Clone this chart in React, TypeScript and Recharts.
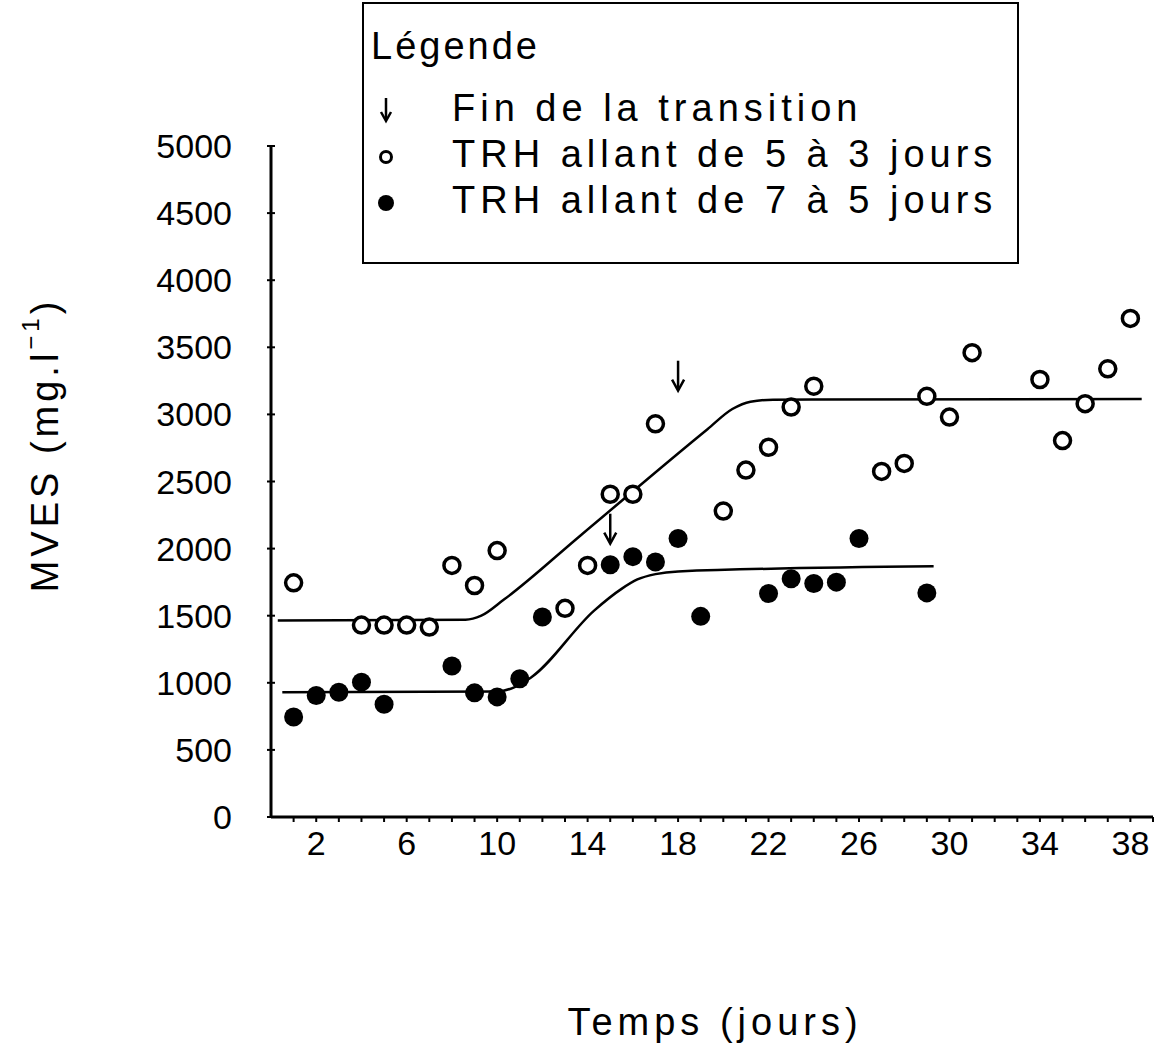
import { ComposedChart, Line, Scatter, XAxis, YAxis, Label } from 'recharts'

// TRH allant de 5 à 3 jours (cercles vides)
const openDays = [1, 4, 5, 6, 7, 8, 9, 10, 13, 14, 15, 16, 17, 20, 21, 22, 23, 24, 27, 28, 29, 30, 31, 34, 35, 36, 37, 38]
const openMves = [1745, 1430, 1430, 1430, 1415, 1875, 1725, 1985, 1555, 1875, 2405, 2405, 2930, 2280, 2585, 2755, 3055, 3210, 2575, 2635, 3135, 2980, 3460, 3260, 2805, 3080, 3340, 3715]

// TRH allant de 7 à 5 jours (cercles pleins)
const filledDays = [1, 2, 3, 4, 5, 8, 9, 10, 11, 12, 15, 16, 17, 18, 19, 22, 23, 24, 25, 26, 29]
const filledMves = [745, 905, 930, 1005, 840, 1125, 925, 895, 1030, 1490, 1880, 1940, 1900, 2075, 1495, 1665, 1775, 1740, 1750, 2075, 1670]

// courbes d'ajustement
const openFitDays = [0.3, 8.6, 9.3, 10.3, 13.7, 19.3, 20.4, 21.2, 22.2, 38.5]
const openFitMves = [1465, 1470, 1500, 1620, 2100, 2890, 3040, 3095, 3110, 3115]
const filledFitDays = [0.5, 10, 10.8, 11.5, 14.3, 15.5, 16.2, 17, 18, 29.3]
const filledFitMves = [930, 935, 970, 1040, 1540, 1700, 1770, 1810, 1830, 1868]

// fin de la transition
const arrowDays = [15, 18]
const arrowMves = [2260, 3400]

const xTicks = [1, 2, 3, 4, 5, 6, 7, 8, 9, 10, 11, 12, 13, 14, 15, 16, 17, 18, 19, 20, 21, 22, 23, 24, 25, 26, 27, 28, 29, 30, 31, 32, 33, 34, 35, 36, 37, 38, 39]
const xTickLabels = [2, 6, 10, 14, 18, 22, 26, 30, 34, 38]
const yTicks = [0, 500, 1000, 1500, 2000, 2500, 3000, 3500, 4000, 4500, 5000]

const FONT = '"Liberation Sans", Arial, sans-serif'

const zip = (days: number[], vals: number[]) => days.map((d, i) => ({ day: d, mves: vals[i] }))

const openPts = zip(openDays, openMves)
const filledPts = zip(filledDays, filledMves)
const openFit = zip(openFitDays, openFitMves)
const filledFit = zip(filledFitDays, filledFitMves)
const arrowPts = zip(arrowDays, arrowMves)

function OpenDot({ cx, cy }: { cx?: number; cy?: number }) {
  return <circle cx={cx} cy={cy} r={8} fill="#fff" stroke="#000" strokeWidth={3.5} />
}

function FilledDot({ cx, cy }: { cx?: number; cy?: number }) {
  return <circle cx={cx} cy={cy} r={9.5} fill="#000" />
}

function Arrow({ cx, cy }: { cx?: number; cy?: number }) {
  if (cx == null || cy == null) return null
  return (
    <g stroke="#000" strokeWidth={2.5} fill="none">
      <line x1={cx} y1={cy} x2={cx} y2={cy + 29} />
      <polyline points={`${cx - 6},${cy + 19} ${cx},${cy + 30} ${cx + 6},${cy + 19}`} />
    </g>
  )
}

function XTick({ x, y, payload }: { x?: number; y?: number; payload?: { value: number } }) {
  const v = payload?.value ?? 0
  return (
    <g>
      <line x1={x} y1={y} x2={x} y2={(y ?? 0) + 5} stroke="#000" strokeWidth={2} />
      {xTickLabels.includes(v) && (
        <text x={x} y={(y ?? 0) + 38} textAnchor="middle" fontSize={34} fontFamily={FONT} fill="#000">
          {v}
        </text>
      )}
    </g>
  )
}

function YTick({ x, y, payload }: { x?: number; y?: number; payload?: { value: number } }) {
  return (
    <g>
      <line x1={(x ?? 0) - 4} y1={y} x2={(x ?? 0) + 4} y2={y} stroke="#000" strokeWidth={2} />
      <text x={(x ?? 0) - 39} y={(y ?? 0) + 12} textAnchor="end" fontSize={34} fontFamily={FONT} fill="#000">
        {payload?.value}
      </text>
    </g>
  )
}

function YTitle() {
  return (
    <text x={45} y={445} transform="rotate(-90 45 445)" textAnchor="middle" dominantBaseline="central"
      fontSize={38} fontFamily={FONT} letterSpacing={4} fill="#000">
      MVES (mg.l<tspan dy={-15} fontSize={24}>−1</tspan><tspan dy={15}>)</tspan>
    </text>
  )
}

function XTitle() {
  return (
    <text x={715} y={1035} textAnchor="middle" fontSize={38} fontFamily={FONT} letterSpacing={5} fill="#000">
      Temps (jours)
    </text>
  )
}

const rowText: React.CSSProperties = {
  position: 'absolute', left: 88, fontSize: 38, letterSpacing: 5, lineHeight: '44px', whiteSpace: 'nowrap',
}

function LegendBox() {
  return (
    <div style={{
      position: 'absolute', left: 362, top: 2, width: 653, height: 258, border: '2.5px solid #000',
      fontFamily: FONT, color: '#000', background: '#fff',
    }}>
      <div style={{ ...rowText, left: 7, top: 20, letterSpacing: 3 }}>Légende</div>
      <svg style={{ position: 'absolute', left: 12, top: 88 }} width={20} height={130}>
        <g stroke="#000" strokeWidth={2.5} fill="none">
          <line x1={10} y1={6} x2={10} y2={28} />
          <polyline points="5,20 10,29 15,20" />
        </g>
        <circle cx={10} cy={65} r={5.5} fill="none" stroke="#000" strokeWidth={3} />
        <circle cx={10} cy={111} r={8} fill="#000" />
      </svg>
      <div style={{ ...rowText, top: 82 }}>Fin de la transition</div>
      <div style={{ ...rowText, top: 128 }}>TRH allant de 5 à 3 jours</div>
      <div style={{ ...rowText, top: 174 }}>TRH allant de 7 à 5 jours</div>
    </div>
  )
}

export default function App() {
  return (
    <div style={{ position: 'absolute', left: 0, top: 0, width: 1161, height: 1047, background: '#fff' }}>
      <ComposedChart width={1161} height={1047} margin={{ top: 146, right: 8, bottom: 200, left: 0 }}>
        <XAxis dataKey="day" type="number" domain={[0, 39]} ticks={xTicks} interval={0} height={30}
          axisLine={{ stroke: '#000', strokeWidth: 3 }} tickLine={false} tickSize={0} tickMargin={0}
          tick={<XTick />} allowDataOverflow>
          <Label content={<XTitle />} />
        </XAxis>
        <YAxis type="number" domain={[0, 5000]} ticks={yTicks} interval={0} width={271}
          axisLine={{ stroke: '#000', strokeWidth: 3 }} tickLine={false} tickSize={0} tickMargin={0}
          tick={<YTick />} allowDataOverflow>
          <Label content={<YTitle />} />
        </YAxis>
        <Line data={openFit} dataKey="mves" type="monotone" stroke="#000" strokeWidth={2.5} dot={false}
          activeDot={false} isAnimationActive={false} />
        <Line data={filledFit} dataKey="mves" type="monotone" stroke="#000" strokeWidth={2.5} dot={false}
          activeDot={false} isAnimationActive={false} />
        <Scatter data={openPts} dataKey="mves" shape={<OpenDot />} isAnimationActive={false} />
        <Scatter data={filledPts} dataKey="mves" shape={<FilledDot />} isAnimationActive={false} />
        <Scatter data={arrowPts} dataKey="mves" shape={<Arrow />} isAnimationActive={false} />
      </ComposedChart>
      <LegendBox />
    </div>
  )
}
